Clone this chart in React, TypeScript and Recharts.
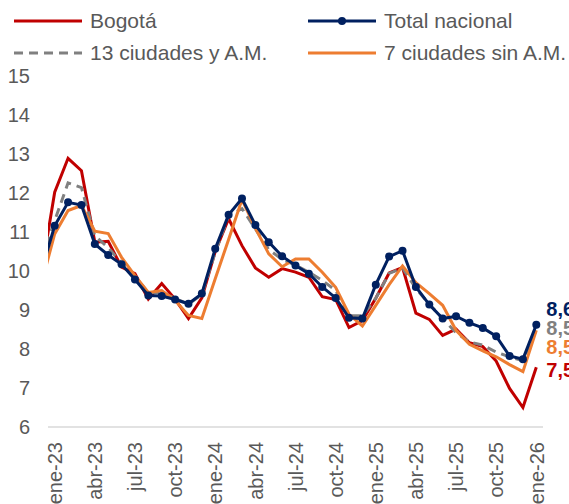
import { LineChart, Line, XAxis, YAxis, LabelList } from "recharts";

const font = "'Liberation Sans', Arial, sans-serif";
const textGrey = "#595959";

// first entry (dic-22) only shows as the clipped start of each line
const months = [
  "dic-22",
  "ene-23", "feb-23", "mar-23", "abr-23", "may-23", "jun-23",
  "jul-23", "ago-23", "sep-23", "oct-23", "nov-23", "dic-23",
  "ene-24", "feb-24", "mar-24", "abr-24", "may-24", "jun-24",
  "jul-24", "ago-24", "sep-24", "oct-24", "nov-24", "dic-24",
  "ene-25", "feb-25", "mar-25", "abr-25", "may-25", "jun-25",
  "jul-25", "ago-25", "sep-25", "oct-25", "nov-25", "dic-25",
  "ene-26",
];

const bogota = [
  9.94, 12.02, 12.89, 12.57, 10.74, 10.76, 10.1, 9.93, 9.28, 9.68, 9.28, 8.78,
  9.31, 10.5, 11.34, 10.65, 10.08, 9.84, 10.06, 9.97, 9.84, 9.34, 9.27, 8.55,
  8.73, 9.3, 9.95, 10.09, 8.92, 8.76, 8.35, 8.51, 8.16, 8.06, 7.69, 6.99, 6.5,
  7.53,
];

const totalNacional = [
  10.0, 11.16, 11.76, 11.69, 10.69, 10.41, 10.17, 9.78, 9.37, 9.36, 9.27, 9.16,
  9.42, 10.57, 11.44, 11.86, 11.18, 10.74, 10.38, 10.14, 9.93, 9.59, 9.31, 8.8,
  8.78, 9.65, 10.37, 10.52, 9.59, 9.14, 8.78, 8.84, 8.67, 8.54, 8.33, 7.82,
  7.74, 8.62,
];

const trece = [
  10.3, 11.29, 12.26, 12.14, 10.9, 10.6, 10.2, 9.85, 9.45, 9.45, 9.3, 9.15,
  9.4, 10.48, 11.42, 11.6, 11.08, 10.55, 10.3, 10.15, 9.97, 9.76, 9.5, 8.85,
  8.85, 9.3, 9.94, 10.08, 9.55, 9.15, 8.78, 8.42, 8.18, 8.1, 7.92, 7.8, 7.7,
  8.5,
];

const siete = [
  9.67, 10.95, 11.55, 11.68, 11.02, 10.96, 10.35, 9.88, 9.45, 9.5, 9.25, 8.86,
  8.78, 9.8, 10.81, 11.83, 11.1, 10.44, 10.11, 10.31, 10.31, 9.97, 9.58, 8.89,
  8.59, 9.12, 9.65, 10.13, 9.7, 9.42, 9.12, 8.48, 8.12, 7.95, 7.8, 7.6, 7.42,
  8.48,
];

const yTicks = [6, 7, 8, 9, 10, 11, 12, 13, 14, 15];

const data = months.map((m, k) => ({
  i: k - 1,
  month: m,
  bogota: bogota[k],
  total: totalNacional[k],
  trece: trece[k],
  siete: siete[k],
}));

const last = data.length - 1;
const labelTicks = data.filter((d) => d.i >= 0 && d.i % 3 === 0).map((d) => d.i);
const boundaryTicks = labelTicks.map((t) => t - 0.5);
const xDomain = [-0.5, data[last].i + 0.5];

const series = [
  { key: "bogota", name: "Bogotá", color: "#C00000", labelDy: 2 },
  { key: "trece", name: "13 ciudades y A.M.", color: "#808080", dash: "9 6", labelDy: -2 },
  { key: "siete", name: "7 ciudades sin A.M.", color: "#ED7D31", labelDy: 17 },
  { key: "total", name: "Total nacional", color: "#002060", dot: true, labelDy: -16 },
];

const fmt = (v: number) => v.toFixed(1).replace(".", ",");

const endLabel = (color: string, dy: number) => (props: any) => {
  if (props.index !== last) return null;
  const x = props.x ?? props.viewBox?.x;
  const y = props.y ?? props.viewBox?.y;
  return (
    <text
      x={x + 10}
      y={y + dy}
      dy="0.36em"
      fill={color}
      fontSize={20}
      fontWeight="bold"
      fontFamily={font}
    >
      {fmt(props.value)}
    </text>
  );
};

const MonthTick = (props: any) => {
  const { x, y, payload } = props;
  const label = months[payload.value + 1];
  return (
    <g transform={`translate(${x},${y})`}>
      <text
        transform="rotate(-90)"
        x={-12}
        y={0}
        dy="0.36em"
        textAnchor="end"
        fill={textGrey}
        fontSize={20}
        fontFamily={font}
      >
        {label}
      </text>
    </g>
  );
};

const legendOrder = ["bogota", "total", "trece", "siete"];

const LegendBox = () => (
  <div style={{ position: "absolute", left: 0, top: 0, width: 569, height: 70 }}>
    {legendOrder.map((key, n) => {
      const s = series.find((x) => x.key === key)!;
      const col = n % 2;
      const row = Math.floor(n / 2);
      const left = col === 0 ? 14 : 308;
      const top = row === 0 ? 21 : 53;
      return (
        <div key={key} style={{ position: "absolute", left, top: top - 14, height: 28, display: "flex", alignItems: "center" }}>
          <svg width={68} height={28} style={{ display: "block" }}>
            <line x1={0} y1={14} x2={68} y2={14} stroke={s.color} strokeWidth={3} strokeDasharray={s.dash} />
            {s.dot && <circle cx={34} cy={14} r={4} fill={s.color} />}
          </svg>
          <span style={{ marginLeft: 8, fontSize: 21, fontFamily: font, color: textGrey, whiteSpace: "nowrap" }}>
            {s.name}
          </span>
        </div>
      );
    })}
  </div>
);

export default function App() {
  return (
    <div style={{ position: "absolute", left: 0, top: 0, width: 569, height: 504, background: "#fff" }}>
      <LineChart width={569} height={504} data={data} margin={{ top: 76, right: 26, bottom: 0, left: 0 }}>
        <XAxis
          xAxisId="g"
          dataKey="i"
          type="number"
          domain={xDomain}
          allowDataOverflow
          ticks={boundaryTicks}
          interval={0}
          tick={false}
          height={1}
          tickSize={5}
          axisLine={{ stroke: "#D9D9D9", strokeWidth: 1.5 }}
          tickLine={{ stroke: "#D9D9D9", strokeWidth: 1.5 }}
        />
        <XAxis
          xAxisId="l"
          dataKey="i"
          type="number"
          domain={xDomain}
          allowDataOverflow
          ticks={labelTicks}
          interval={0}
          height={76}
          tickSize={0}
          axisLine={false}
          tickLine={false}
          tick={<MonthTick />}
        />
        <YAxis
          width={48}
          domain={[6, 15]}
          ticks={yTicks}
          interval={0}
          axisLine={false}
          tickLine={false}
          tickMargin={12}
          tick={{ fill: textGrey, fontSize: 20, fontFamily: font }}
        />
        {series.map((s) => (
          <Line
            key={s.key}
            xAxisId="g"
            dataKey={s.key}
            name={s.name}
            type="linear"
            stroke={s.color}
            strokeWidth={3}
            strokeDasharray={s.dash}
            dot={s.dot ? { r: 4, fill: s.color, stroke: s.color, strokeWidth: 0 } : false}
            activeDot={false}
            isAnimationActive={false}
          >
            <LabelList dataKey={s.key} content={endLabel(s.color, s.labelDy)} />
          </Line>
        ))}
      </LineChart>
      <LegendBox />
    </div>
  );
}
